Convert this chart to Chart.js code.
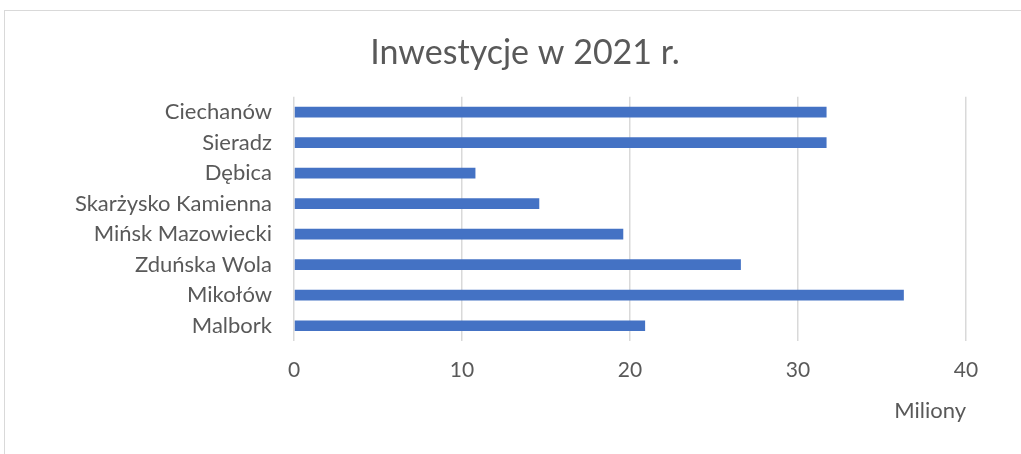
<!DOCTYPE html>
<html lang="pl">
<head>
<meta charset="utf-8">
<title>Inwestycje w 2021 r.</title>
<script src="https://cdn.jsdelivr.net/npm/chart.js@4"></script>
<style>
    html, body { margin: 0; padding: 0; background: #ffffff; overflow: hidden; }
    .frame {
        position: absolute;
        left: 4px;
        top: 10px;
        width: 1100px;
        height: 500px;
        border: 1px solid #d9d9d9;
    }
    #investChart { position: absolute; left: 0; top: 0; }
</style>
</head>
<body>
<div class="frame"></div>
<canvas id="investChart" width="1021" height="454"></canvas>
<script>
const cities = ['Ciechanów', 'Sieradz', 'Dębica', 'Skarżysko Kamienna', 'Mińsk Mazowiecki', 'Zduńska Wola', 'Mikołów', 'Malbork'];
const investments = [31.7, 31.7, 10.8, 14.6, 19.6, 26.6, 36.3, 20.9];
const xTicks = [0, 10, 20, 30, 40];

document.addEventListener('DOMContentLoaded', () => {
    const ctx = document.getElementById('investChart').getContext('2d');
    const fontName = "Lato, 'Open Sans', sans-serif";
    const textColor = '#595959';

    const data = {
        labels: cities,
        datasets: [{
            data: investments,
            backgroundColor: '#4472c4',
            borderWidth: 0,
            categoryPercentage: 1,
            barPercentage: 0.35
        }]
    };

    const config = {
        type: 'bar',
        data: data,
        options: {
            indexAxis: 'y',
            responsive: false,
            animation: false,
            layout: {
                // title is centred on the (wider) Excel frame, so keep padding small
                padding: { top: 0, right: 0, bottom: 0, left: 29 }
            },
            scales: {
                x: {
                    min: 0,
                    max: 40,
                    afterBuildTicks: (scale) => {
                        scale.ticks = xTicks.map(v => ({ value: v }));
                    },
                    afterFit: (scale) => {
                        scale.height = 113;
                        scale.paddingRight = 55; // plot ends at x = 966
                    },
                    grid: {
                        color: '#d9d9d9',
                        lineWidth: 1.5,
                        drawTicks: false
                    },
                    border: { display: false },
                    ticks: {
                        color: textColor,
                        padding: 17,
                        font: { family: fontName, size: 21 }
                    },
                    title: {
                        display: true,
                        text: 'Miliony',
                        align: 'end',
                        color: textColor,
                        padding: { top: 0, bottom: 30 },
                        font: { family: fontName, size: 22 }
                    }
                },
                y: {
                    afterFit: (scale) => { scale.width = 265; },
                    grid: { display: false, drawTicks: false },
                    border: { display: false },
                    ticks: {
                        color: textColor,
                        padding: 22,
                        font: { family: fontName, size: 22 }
                    }
                }
            },
            plugins: {
                legend: { display: false },
                tooltip: { enabled: false },
                title: {
                    display: true,
                    text: 'Inwestycje w 2021 r.',
                    color: textColor,
                    padding: { top: 33, bottom: 23 },
                    font: { family: fontName, size: 34, weight: 'normal' }
                }
            }
        }
    };

    const investChart = new Chart(ctx, config);
});
</script>
</body>
</html>
